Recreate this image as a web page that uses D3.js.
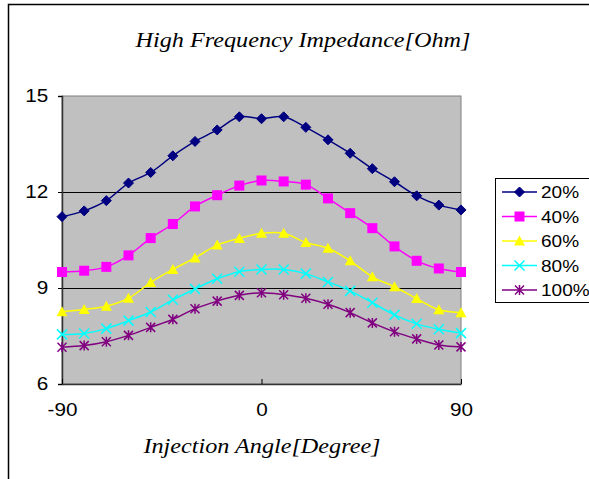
<!DOCTYPE html>
<html>
<head>
<meta charset="utf-8">
<script src="https://cdn.jsdelivr.net/npm/d3@7"></script>
<style>
  body { margin: 0; background: #fff; }
  svg { display: block; }
</style>
</head>
<body>
<div id="chart"></div>
<script>
// injection angle in degrees
const angles = [-90, -80, -70, -60, -50, -40, -30, -20, -10, 0, 10, 20, 30, 40, 50, 60, 70, 80, 90];

// impedance values
const seriesNames = ["20%", "40%", "60%", "80%", "100%"];
const v20 = [11.23, 11.41, 11.73, 12.28, 12.61, 13.13, 13.58, 13.94, 14.35, 14.29, 14.35, 14.02, 13.63, 13.21, 12.73, 12.32, 11.88, 11.59, 11.44];
const v40 = [9.50, 9.54, 9.66, 10.02, 10.56, 11.00, 11.55, 11.90, 12.20, 12.36, 12.33, 12.23, 11.80, 11.34, 10.87, 10.30, 9.85, 9.61, 9.50];
const v60 = [8.26, 8.33, 8.43, 8.68, 9.17, 9.58, 9.94, 10.34, 10.55, 10.71, 10.71, 10.42, 10.24, 9.85, 9.35, 9.04, 8.67, 8.32, 8.23];
const v80 = [7.55, 7.58, 7.73, 7.98, 8.25, 8.63, 8.97, 9.29, 9.51, 9.58, 9.58, 9.45, 9.19, 8.91, 8.54, 8.16, 7.88, 7.71, 7.59];
const v100 = [7.15, 7.20, 7.32, 7.52, 7.77, 8.02, 8.35, 8.59, 8.77, 8.85, 8.79, 8.68, 8.49, 8.23, 7.91, 7.63, 7.41, 7.22, 7.16];

const xTicks = [-90, 0, 90];
const yTicks = [6, 9, 12, 15];

const colors = ["#000080", "#FF00FF", "#FFFF00", "#00FFFF", "#800080"];
const symbols = ["diamond", "square", "triangle", "x", "star"];

const width = 589, height = 479;
const plot = { left: 62, top: 96, right: 461, bottom: 384 };
const sansFont = "Arial, 'Liberation Sans', sans-serif";
const serifFont = "'Times New Roman', 'Liberation Serif', serif";

const svg = d3.select("#chart").append("svg")
    .attr("width", width)
    .attr("height", height);

// outer chart border
svg.append("rect")
    .attr("x", 8.5).attr("y", 4.5)
    .attr("width", 600).attr("height", 500)
    .attr("fill", "#fff")
    .attr("stroke", "#000")
    .attr("stroke-width", 1.5);

const x = d3.scaleLinear().domain([-90, 90]).range([plot.left, plot.right]);
const y = d3.scaleLinear().domain([6, 15]).range([plot.bottom, plot.top]);

// plot area
svg.append("rect")
    .attr("x", plot.left).attr("y", plot.top)
    .attr("width", plot.right - plot.left).attr("height", plot.bottom - plot.top)
    .attr("fill", "#C0C0C0")
    .attr("stroke", "#808080")
    .attr("stroke-width", 1);

// gridlines
svg.append("g")
    .selectAll("line")
    .data(yTicks.filter(d => d > 6 && d < 15))
    .enter().append("line")
    .attr("x1", plot.left).attr("x2", plot.right)
    .attr("y1", d => Math.round(y(d)) + 0.5).attr("y2", d => Math.round(y(d)) + 0.5)
    .attr("stroke", "#000")
    .attr("stroke-width", 1);

// y axis
const yAxis = svg.append("g")
    .attr("transform", `translate(${plot.left},0)`)
    .call(d3.axisLeft(y).tickValues(yTicks).tickSize(4).tickPadding(8).tickFormat(d => String(d)));
yAxis.select(".domain").attr("stroke", "#333").attr("stroke-width", 1.5);
yAxis.selectAll(".tick line").attr("stroke", "#000");
yAxis.selectAll("text")
    .attr("font-family", sansFont)
    .attr("font-size", 18)
    .attr("fill", "#000")
    .attr("transform", "scale(1.15,1)");

// x axis
const xAxis = svg.append("g")
    .attr("transform", `translate(0,${plot.bottom})`)
    .call(d3.axisBottom(x).tickValues(xTicks).tickSizeInner(-5).tickSizeOuter(0).tickPadding(19).tickFormat(d => String(d)));
xAxis.select(".domain").attr("stroke", "#333").attr("stroke-width", 1.5);
xAxis.selectAll(".tick line").attr("stroke", "#000");
xAxis.selectAll("text")
    .attr("font-family", sansFont)
    .attr("font-size", 18)
    .attr("fill", "#000")
    .attr("transform", "scale(1.15,1)");

// series
const allValues = [v20, v40, v60, v80, v100];
const series = seriesNames.map((name, i) => ({
    name: name,
    color: colors[i],
    symbol: symbols[i],
    values: angles.map((a, j) => ({ angle: a, value: allValues[i][j] }))
}));

const line = d3.line()
    .x(d => x(d.angle))
    .y(d => y(d.value))
    .curve(d3.curveCatmullRom.alpha(0.5));

function marker(g, type, color) {
    if (type === "diamond") {
        g.append("path").attr("d", "M0,-5L5,0L0,5L-5,0Z").attr("fill", color).attr("stroke", color);
    } else if (type === "square") {
        g.append("rect").attr("x", -5).attr("y", -5).attr("width", 10).attr("height", 10).attr("fill", color);
    } else if (type === "triangle") {
        g.append("path").attr("d", "M0,-5.5L5.5,4.5L-5.5,4.5Z").attr("fill", color);
    } else if (type === "x") {
        g.append("path").attr("d", "M-5,-5L5,5M-5,5L5,-5").attr("stroke", color).attr("stroke-width", 1.5);
    } else {
        g.append("path").attr("d", "M-4.5,-4.5L4.5,4.5M-4.5,4.5L4.5,-4.5M0,-5L0,5")
            .attr("stroke", color).attr("stroke-width", 1.5);
    }
}

const sg = svg.append("g");
series.forEach(s => {
    sg.append("path")
        .datum(s.values)
        .attr("d", line)
        .attr("fill", "none")
        .attr("stroke", s.color)
        .attr("stroke-width", 1.5);
    s.values.forEach(d => {
        const g = sg.append("g").attr("transform", `translate(${x(d.angle)},${y(d.value)})`);
        marker(g, s.symbol, s.color);
    });
});

// title and axis title (text in the original is a bit wider than the font)
svg.append("g")
    .attr("transform", "translate(303,47) scale(1.1,1)")
    .append("text")
    .attr("text-anchor", "middle")
    .attr("font-family", serifFont)
    .attr("font-style", "italic")
    .attr("font-size", 22)
    .text("High Frequency Impedance[Ohm]");

svg.append("g")
    .attr("transform", "translate(262,453) scale(1.1,1)")
    .append("text")
    .attr("text-anchor", "middle")
    .attr("font-family", serifFont)
    .attr("font-style", "italic")
    .attr("font-size", 22)
    .text("Injection Angle[Degree]");

// legend
const legend = svg.append("g");
legend.append("rect")
    .attr("x", 495.5).attr("y", 178.5)
    .attr("width", 120).attr("height", 124)
    .attr("fill", "#fff")
    .attr("stroke", "#000")
    .attr("stroke-width", 1);

series.forEach((s, i) => {
    const ly = 192 + i * 24.5;
    legend.append("line")
        .attr("x1", 502).attr("x2", 537)
        .attr("y1", ly).attr("y2", ly)
        .attr("stroke", s.color).attr("stroke-width", 1.5);
    const g = legend.append("g").attr("transform", `translate(519.5,${ly})`);
    marker(g, s.symbol, s.color);
    legend.append("g")
        .attr("transform", `translate(541,${ly + 6}) scale(1.12,1)`)
        .append("text")
        .attr("font-family", sansFont)
        .attr("font-size", 17)
        .text(s.name);
});
</script>
</body>
</html>
